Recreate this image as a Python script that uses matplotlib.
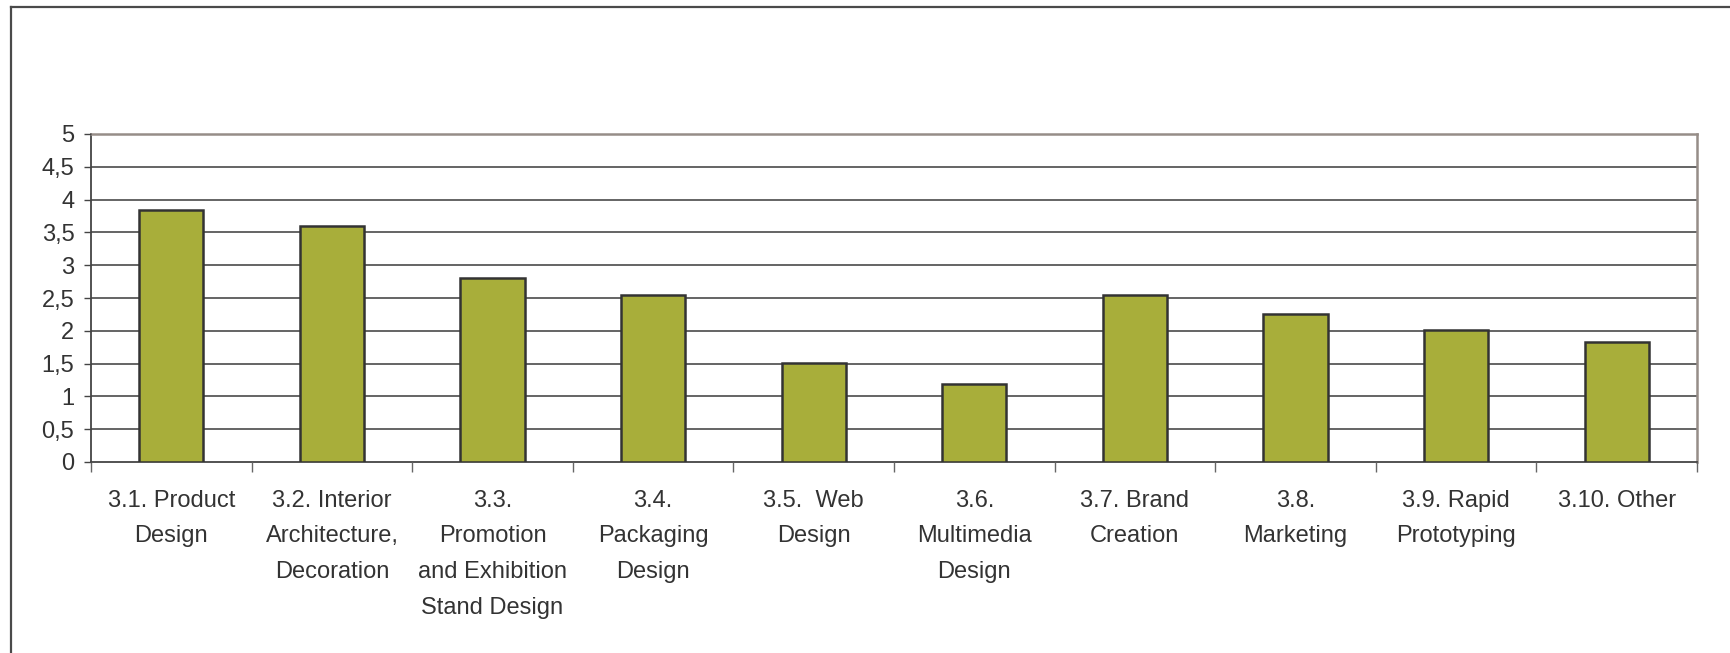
import matplotlib
matplotlib.use("Agg")
import matplotlib.pyplot as plt
from matplotlib.lines import Line2D
from matplotlib.ticker import FixedLocator

categories = [
    "3.1. Product\nDesign",
    "3.2. Interior\nArchitecture,\nDecoration",
    "3.3.\nPromotion\nand Exhibition\nStand Design",
    "3.4.\nPackaging\nDesign",
    "3.5.  Web\nDesign",
    "3.6.\nMultimedia\nDesign",
    "3.7. Brand\nCreation",
    "3.8.\nMarketing",
    "3.9. Rapid\nPrototyping",
    "3.10. Other",
]
values = [3.84, 3.60, 2.80, 2.55, 1.51, 1.19, 2.55, 2.26, 2.01, 1.83]
y_ticks = [0, 0.5, 1, 1.5, 2, 2.5, 3, 3.5, 4, 4.5, 5]
y_tick_labels = ["0", "0,5", "1", "1,5", "2", "2,5", "3", "3,5", "4", "4,5", "5"]

plt.rcParams["font.family"] = ["Liberation Sans", "DejaVu Sans"]

W, H = 1730, 653
fig = plt.figure(figsize=(W / 100, H / 100), dpi=100)
fig.patch.set_facecolor("white")

# outer chart frame (top and left edges)
frame_color = "#4a4a4a"
fig.add_artist(Line2D([11 / W, 1.0], [1 - 7 / H, 1 - 7 / H], color=frame_color, lw=1.6,
                      transform=fig.transFigure))
fig.add_artist(Line2D([11 / W, 11 / W], [0.0, 1 - 7 / H], color=frame_color, lw=1.6,
                      transform=fig.transFigure))

left, right = 91 / W, 1697 / W
bottom, top = 1 - 462 / H, 1 - 134 / H
ax = fig.add_axes([left, bottom, right - left, top - bottom])

x = list(range(len(categories)))
ax.bar(x, values, width=0.40, color="#a8ae3a", edgecolor="#333333", linewidth=1.8, zorder=3)

ax.set_xlim(-0.5, len(categories) - 0.5)
ax.set_ylim(0, 5)

# horizontal gridlines
for yv in y_ticks[1:-1]:
    ax.axhline(yv, color="#3a3a3a", lw=1.1, zorder=1)

ax.set_yticks(y_ticks)
ax.set_yticklabels(y_tick_labels)
ax.set_xticks(x)
ax.set_xticklabels(categories, linespacing=1.8, va="top")
ax.xaxis.set_minor_locator(FixedLocator([i - 0.5 for i in range(len(categories) + 1)]))

text_color = "#333333"
ax.tick_params(axis="y", which="major", direction="out", length=5, width=1, color="#444444",
               labelsize=17, labelcolor=text_color, pad=7)
ax.tick_params(axis="x", which="major", length=0, labelsize=17, labelcolor=text_color, pad=20)
ax.tick_params(axis="x", which="minor", direction="out", length=7, width=1, color="#666666")

for side in ("left", "bottom"):
    ax.spines[side].set_color("#444444")
    ax.spines[side].set_linewidth(1.3)
for side in ("top", "right"):
    ax.spines[side].set_color("#968d88")
    ax.spines[side].set_linewidth(1.8)
ax.set_axisbelow(False)

fig.savefig("out.png", dpi=100, facecolor="white")
